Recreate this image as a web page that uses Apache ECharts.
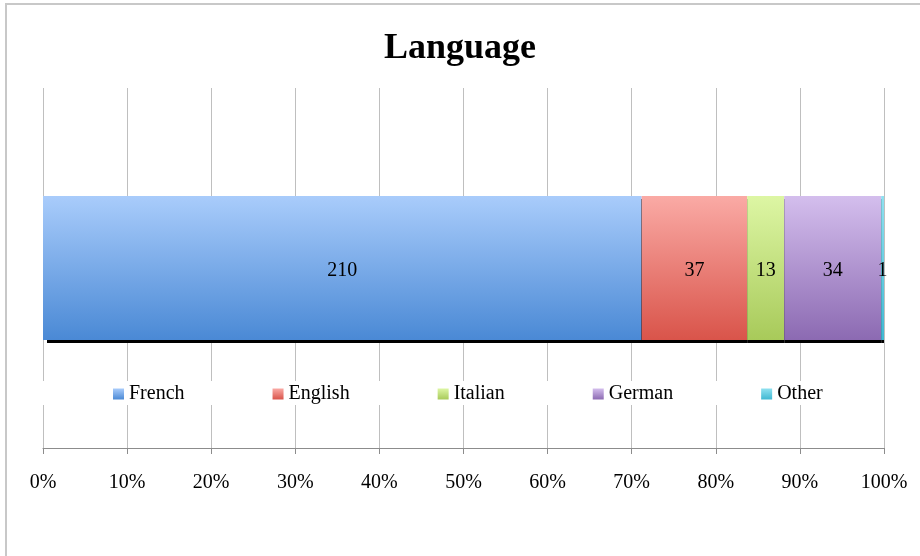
<!DOCTYPE html>
<html>
<head>
<meta charset="utf-8">
<title>Language</title>
<script src="https://cdn.jsdelivr.net/npm/echarts@6/dist/echarts.min.js"></script>
<style>
  html, body { margin: 0; padding: 0; background: #fff; }
  #main { width: 920px; height: 556px; }
</style>
</head>
<body>
<div id="main"></div>
<script type="text/javascript">
// data
var languages = ['French', 'English', 'Italian', 'German', 'Other'];
var counts = [210, 37, 13, 34, 1];
var tickLabels = ['0%', '10%', '20%', '30%', '40%', '50%', '60%', '70%', '80%', '90%', '100%'];
// gradient top / bottom per language
var colorsTop = ['#a9ccfb', '#faaaa5', '#ddf6a4', '#d4beed', '#8fe1f0'];
var colorsBottom = ['#4a89d5', '#d9544a', '#a8ca5a', '#8c6ab2', '#3fb8d2'];

var total = 0;
for (var i = 0; i < counts.length; i++) total += counts[i];

var font = '"Liberation Serif", "Times New Roman", serif';

var series = [];
for (var i = 0; i < languages.length; i++) {
    series.push({
        name: languages[i],
        type: 'bar',
        stack: 'all',
        barWidth: '40%',
        data: [counts[i] / total * 100],
        itemStyle: {
            color: new echarts.graphic.LinearGradient(0, 0, 0, 1, [
                { offset: 0, color: colorsTop[i] },
                { offset: 1, color: colorsBottom[i] }
            ]),
            shadowColor: '#000',
            shadowBlur: 0,
            shadowOffsetX: i == 0 ? 4 : 0,
            shadowOffsetY: 3
        },
        label: {
            show: true,
            position: 'inside',
            offset: [0, 3],
            color: '#000',
            fontFamily: font,
            fontSize: 20,
            formatter: (function (c) { return function () { return c; }; })(counts[i])
        }
    });
}

var myChart = echarts.init(document.getElementById('main'));
var option = {
    animation: false,
    backgroundColor: '#fff',
    title: {
        text: 'Language',
        left: 'center',
        top: 26,
        textStyle: { fontFamily: font, fontSize: 36, fontWeight: 'bold', color: '#000' }
    },
    graphic: [{
        type: 'rect',
        shape: { x: 6, y: 4, width: 1000, height: 1000 },
        style: { fill: null, stroke: '#c8c8c8', lineWidth: 2 },
        silent: true
    }],
    legend: {
        data: languages,
        left: 43,
        top: 381,
        padding: [3, 55, 1, 70],
        backgroundColor: '#fff',
        itemWidth: 11,
        itemHeight: 11,
        itemGap: 88,
        icon: 'rect',
        textStyle: { fontFamily: font, fontSize: 20, color: '#000' },
        z: 10
    },
    grid: { left: 43, right: 36, top: 88, bottom: 108 },
    xAxis: {
        type: 'value',
        min: 0,
        max: 100,
        interval: 10,
        axisLine: { show: true, lineStyle: { color: '#8c8c8c', width: 1 } },
        axisTick: { show: true, length: 6, lineStyle: { color: '#8c8c8c' } },
        axisLabel: {
            margin: 25,
            fontFamily: font,
            fontSize: 20,
            color: '#000',
            formatter: function (v) { return tickLabels[Math.round(v / 10)]; }
        },
        splitLine: { show: true, lineStyle: { color: '#bfbfbf', width: 1 } }
    },
    yAxis: {
        type: 'category',
        data: ['Language'],
        axisLine: { show: false },
        axisTick: { show: false },
        axisLabel: { show: false }
    },
    series: series
};
myChart.setOption(option);
</script>
</body>
</html>
